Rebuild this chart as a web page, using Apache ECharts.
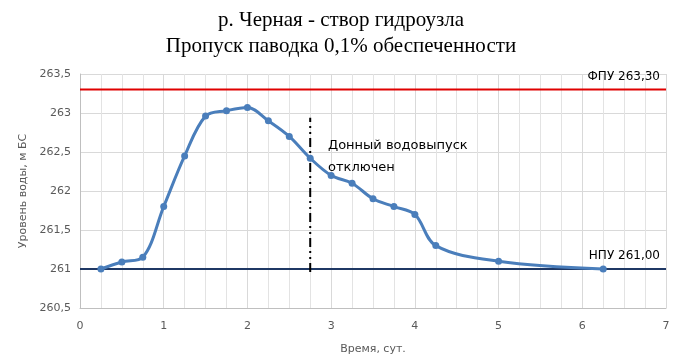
<!DOCTYPE html>
<html><head><meta charset="utf-8">
<script src="https://cdn.jsdelivr.net/npm/echarts@6/dist/echarts.min.js"></script>
<style>html,body{margin:0;padding:0;background:#fff}#c{width:682px;height:362px}</style>
</head><body><div id="c"></div>
<script>
const days = [0.25,0.5,0.75,1,1.25,1.5,1.75,2,2.25,2.5,2.75,3,3.25,3.5,3.75,4,4.25,5,6.25];
const levels = [261.0,261.09,261.15,261.8,262.45,262.96,263.03,263.07,262.9,262.7,262.42,262.2,262.1,261.9,261.8,261.7,261.3,261.1,261.0];
const fpu = 263.3;
const npu = 261.0;
const cutoffDay = 2.75;
const cutoffRange = [260.96, 262.94];
const titleLines = ['р. Черная - створ гидроузла','Пропуск паводка 0,1% обеспеченности'];
const fmt = v => String(v).replace('.', ',');
const chart = echarts.init(document.getElementById('c'), null, {renderer:'canvas'});
chart.setOption({
  animation:false,
  title:{text:titleLines.join('\n'), left:'center', top:2,
    textStyle:{fontFamily:'Liberation Serif', fontSize:21, fontWeight:'normal', color:'#000', lineHeight:26}},
  grid:{left:80, right:16, top:74, bottom:54},
  xAxis:{type:'value', min:0, max:7, interval:1,
    name:'Время, сут.', nameLocation:'middle', nameGap:36,
    nameTextStyle:{color:'#595959', fontFamily:'DejaVu Sans', fontSize:11},
    axisLine:{lineStyle:{color:'#bfbfbf'}}, axisTick:{show:false},
    axisLabel:{color:'#595959', fontFamily:'DejaVu Sans', fontSize:11, margin:13},
    splitLine:{show:true, lineStyle:{color:'#d9d9d9'}},
    minorTick:{show:false, splitNumber:4},
    minorSplitLine:{show:true, lineStyle:{color:'#e3e3e3'}}},
  yAxis:{type:'value', min:260.5, max:263.5, interval:0.5,
    name:'Уровень воды, м БС', nameLocation:'middle', nameGap:47,
    nameTextStyle:{color:'#595959', fontFamily:'DejaVu Sans', fontSize:11},
    axisLine:{show:true, lineStyle:{color:'#bfbfbf'}}, axisTick:{show:false},
    axisLabel:{color:'#595959', fontFamily:'DejaVu Sans', fontSize:11, margin:9, formatter:fmt},
    splitLine:{show:true, lineStyle:{color:'#d9d9d9'}}},
  series:[
    {type:'line', data:days.map((d,i)=>[d,levels[i]]), smooth:0.35,
     symbol:'circle', symbolSize:7, itemStyle:{color:'#4a7ebb'},
     lineStyle:{color:'#4a7ebb', width:3}, z:5},
    {type:'line', data:[[0,fpu],[7,fpu]], symbol:'none', lineStyle:{color:'#e00000', width:2}, z:3},
    {type:'line', data:[[0,npu],[7,npu]], symbol:'none', lineStyle:{color:'#1f3864', width:2}, z:3},
    {type:'line', data:[[cutoffDay,cutoffRange[0]],[cutoffDay,cutoffRange[1]]], symbol:'none',
     lineStyle:{color:'#000', width:2, type:[9,4,2,4,2,4]}, z:4}
  ],
  graphic:[
    {type:'text', right:22, top:71, z:10, style:{text:'ФПУ 263,30', fill:'#000', font:'12px "DejaVu Sans"'}},
    {type:'text', right:22, top:250, z:10, style:{text:'НПУ 261,00', fill:'#000', font:'12px "DejaVu Sans"'}},
    {type:'text', left:328, top:135, z:10, style:{text:'Донный водовыпуск\nотключен', fill:'#000', font:'13px "DejaVu Sans"', lineHeight:22}}
  ]
});
</script></body></html>
